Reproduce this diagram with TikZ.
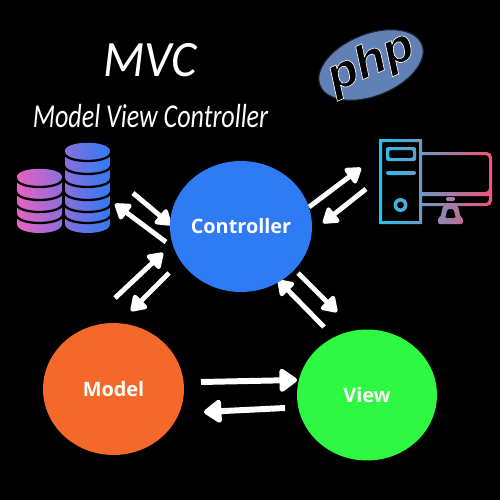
\documentclass[tikz,border=0pt]{standalone}
\usepackage{fontspec}
\setmainfont{Open Sans}
\newfontfamily\titlefont{Carlito}
\newfontfamily\phpfont{Liberation Sans}
\usetikzlibrary{arrows.meta,shapes.geometric}
\definecolor{ctrlblue}{HTML}{2F7BF5}
\definecolor{modelorange}{HTML}{F4692A}
\definecolor{viewgreen}{HTML}{2EF842}
\definecolor{phpblue}{HTML}{6181B6}
\definecolor{dbpink}{HTML}{E662C2}
\definecolor{pccyan}{HTML}{1FC4F0}
\definecolor{pcmid}{HTML}{9A80E6}
\definecolor{pcred}{HTML}{F2527A}
\tikzset{
  hub/.style={ellipse,inner sep=0pt,text=white,font=\fontsize{11.3}{13}\selectfont\bfseries},
  flow/.style={white,line width=2.8pt,-{Triangle[length=9.5pt,width=12pt,round]}},
  bigflow/.style={white,line width=3.4pt,-{Triangle[length=11pt,width=15pt,round]}},
  gap/.style={black,line width=1.3pt},
}
\begin{document}
\begin{tikzpicture}[x=0.02cm,y=-0.02cm]
\useasboundingbox (0,0) rectangle (500,500);
\fill[black] (0,0) rectangle (500,500);

% titles
\node[white,inner sep=0pt,font=\titlefont\itshape\fontsize{29}{31}\selectfont] (mvc) at (150,60) {\scalebox{.95}[1]{MVC}};
\node[white,inner sep=0pt,font=\titlefont\itshape\fontsize{19}{21}\selectfont] (full) at (150.5,116) {\scalebox{.78}[1]{Model View Controller}};

% php logo
\draw[fill=phpblue,draw=black!75!phpblue,line width=0.7pt,rotate around={22:(371,65)}] (371,65) ellipse [x radius=55,y radius=31];
\node[inner sep=0pt,rotate=24,font=\phpfont\bfseries\itshape\fontsize{26}{28}\selectfont] (php) at (371,63)
  {\scalebox{1.08}[1]{\special{pdf:code 1 1 1 RG 0.35 w 2 Tr}php\special{pdf:code 0 Tr}}};

% database
\begin{scope}
\clip (17,177) .. controls (17,166) and (62,166) .. (62,177) -- (62,224) .. controls (62,236) and (17,236) .. (17,224) -- cycle;
\shade[left color=dbpink,right color=ctrlblue] (17,130) rectangle (110,240);
\end{scope}
\begin{scope}
\clip (65,151) .. controls (65,140) and (110,140) .. (110,151) -- (110,224) .. controls (110,236) and (65,236) .. (65,224) -- cycle;
\shade[left color=dbpink,right color=ctrlblue] (17,130) rectangle (110,240);
\end{scope}
\foreach \yy in {178,191,203,214}{
  \draw[gap] (16,\yy) .. controls (16,\yy+12) and (63,\yy+12) .. (63,\yy);
}
\foreach \yy in {152,165,178,191,203,214}{
  \draw[gap] (64,\yy) .. controls (64,\yy+12) and (111,\yy+12) .. (111,\yy);
}

% computer
\shade[left color=pccyan,middle color=pcmid,right color=pcred,even odd rule]
  (379,139) rectangle (422,224)
  (382,142) rectangle (419,221)
  [rounded corners=1.2pt]
  (386,147) rectangle (416,161)
  (389,150) rectangle (413,158)
  (386,171) rectangle (416,175)
  [sharp corners]
  (400.5,205) circle [radius=7]
  (400.5,205) circle [radius=3.5]
  (422,152) [rounded corners=3pt] -- (492,152) -- (492,206) [sharp corners] -- (422,206) -- cycle
  (422,155) [rounded corners=2pt] -- (489,155) -- (489,192) [sharp corners] -- (422,192) -- cycle
  (422,196) -- (489,196) [rounded corners=2pt] -- (489,203) [sharp corners] -- (422,203) -- cycle
  [rounded corners=0.8pt]
  (446,197) rectangle (455,201)
  (443,206) -- (458,206) -- (460.5,217) -- (463,218) -- (463,224) -- (438,224) -- (438,218) -- (440.5,217) -- cycle
  (447.5,209) -- (453.5,209) -- (456,218) -- (445,218) -- cycle
  [sharp corners];

% connector ends
\coordinate (c1a) at (133,193); \coordinate (c1b) at (171,225);
\coordinate (c2a) at (166,242); \coordinate (c2b) at (115,204);
\coordinate (c3a) at (309,207); \coordinate (c3b) at (361,168);
\coordinate (c4a) at (366,189); \coordinate (c4b) at (323,223);
\coordinate (c5a) at (115,298); \coordinate (c5b) at (163,253);
\coordinate (c6a) at (169,273); \coordinate (c6b) at (131,311);
\coordinate (c7a) at (298,273); \coordinate (c7b) at (337,312);
\coordinate (c8a) at (324,327); \coordinate (c8b) at (278,280);
\coordinate (c9a) at (201,382); \coordinate (c9b) at (297,380);
\coordinate (c10a) at (285,408); \coordinate (c10b) at (204,412);

\foreach \n in {1,2,3,4,5,6,7,8}{\draw[flow] (c\n a) -- (c\n b);}
\foreach \n in {9,10}{\draw[bigflow] (c\n a) -- (c\n b);}

% hubs
\node[hub,fill=ctrlblue,minimum width=2.8cm,minimum height=2.62cm] (controller) at (241,226.5) {Controller};
\node[hub,fill=modelorange,minimum width=2.82cm,minimum height=2.64cm] (model) at (113.5,389) {Model};
\node[hub,fill=viewgreen,minimum width=2.8cm,minimum height=2.62cm] (view) at (367,395) {View};
\end{tikzpicture}
\end{document}
